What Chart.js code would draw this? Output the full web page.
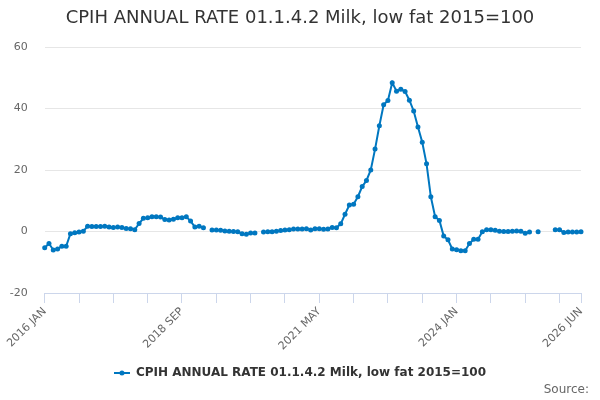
<!DOCTYPE html>
<html>
<head>
<meta charset="utf-8">
<script src="https://cdn.jsdelivr.net/npm/chart.js@4.4.1/dist/chart.umd.min.js"></script>
<style>
  html, body { margin: 0; padding: 0; background: #fff; }
  #wrap { width: 600px; height: 400px; }
</style>
</head>
<body>
<div id="wrap"><canvas id="line-chart" width="600" height="400"></canvas></div>
<script>
// monthly annual rate (%), one array per year, null = no figure published
var v2016 = [-5.3, -3.9, -6.0, -5.7, -4.8, -4.8, -0.7, -0.4, -0.2, 0.1, 1.7, 1.6];
var v2017 = [1.6, 1.6, 1.7, 1.5, 1.3, 1.5, 1.3, 1.0, 0.9, 0.6, 2.6, 4.3];
var v2018 = [4.5, 4.8, 4.8, 4.7, 3.9, 3.7, 4.0, 4.5, 4.5, 4.8, 3.4, 1.5];
var v2019 = [1.7, 1.2, null, 0.5, 0.5, 0.4, 0.2, 0.1, 0.0, -0.1, -0.7, -0.9];
var v2020 = [-0.5, -0.5, null, -0.2, -0.1, -0.1, 0.1, 0.3, 0.5, 0.6, 0.8, 0.8];
var v2021 = [0.8, 0.9, 0.5, 0.9, 0.9, 0.7, 0.8, 1.3, 1.2, 2.5, 5.6, 8.6];
var v2022 = [8.9, 11.3, 14.6, 16.6, 20.0, 26.8, 34.4, 41.2, 42.6, 48.4, 45.6, 46.3];
var v2023 = [45.5, 42.7, 39.2, 34.0, 29.0, 22.0, 11.3, 4.8, 3.6, -1.5, -2.7, -5.7];
var v2024 = [-5.9, -6.3, -6.3, -3.9, -2.5, -2.5, -0.1, 0.6, 0.6, 0.4, 0.1, 0.0];
var v2025 = [0.0, 0.1, 0.2, 0.1, -0.6, -0.2, null, -0.1, null, null, null, 0.6];
var v2026 = [0.6, -0.3, -0.2, -0.2, -0.2, -0.1];

var years = [2016, 2017, 2018, 2019, 2020, 2021, 2022, 2023, 2024, 2025, 2026];
var months = ['JAN', 'FEB', 'MAR', 'APR', 'MAY', 'JUN', 'JUL', 'AUG', 'SEP', 'OCT', 'NOV', 'DEC'];
var yTicks = [-20, 0, 20, 40, 60];

var seriesName = 'CPIH ANNUAL RATE 01.1.4.2 Milk, low fat 2015=100';
var blue = '#0077c0';

var valores = [].concat(v2016, v2017, v2018, v2019, v2020, v2021, v2022, v2023, v2024, v2025, v2026);
var etiquetas = [];
years.forEach(function (y) {
    months.forEach(function (m) {
        if (etiquetas.length < valores.length) etiquetas.push(y + ' ' + m);
    });
});
var last = etiquetas.length - 1;

// legend symbol: short line with a dot in the middle
var sym = document.createElement('canvas');
sym.width = 16; sym.height = 12;
var sctx = sym.getContext('2d');
sctx.strokeStyle = blue; sctx.lineWidth = 2;
sctx.beginPath(); sctx.moveTo(0, 6); sctx.lineTo(16, 6); sctx.stroke();
sctx.fillStyle = blue;
sctx.beginPath(); sctx.arc(8, 6, 2.5, 0, Math.PI * 2); sctx.fill();

// right padding pushes title/legend off centre, move them back to the page middle
var recentrar = {
    id: 'recentrar',
    afterLayout: function (chart) {
        var d = chart.options.layout.padding.right / 2;
        [chart.titleBlock, chart.legend].forEach(function (b) {
            if (b) { b.left += d; b.right += d; }
        });
    }
};

var sourceText = {
    id: 'sourceText',
    afterDraw: function (chart) {
        var c = chart.ctx;
        c.save();
        c.font = '12px "DejaVu Sans"';
        c.fillStyle = '#666666';
        c.textAlign = 'right';
        c.textBaseline = 'middle';
        c.fillText('Source:', 589, 390);
        c.restore();
    }
};

var ctx = document.getElementById('line-chart').getContext('2d');
var myChart = new Chart(ctx, {
    type: 'line',
    data: {
        labels: etiquetas,
        datasets: [{
            label: seriesName,
            data: valores,
            borderColor: blue,
            backgroundColor: blue,
            borderWidth: 2,
            pointRadius: 2.5,
            pointBorderWidth: 0,
            pointBackgroundColor: blue,
            spanGaps: false,
            tension: 0
        }]
    },
    plugins: [recentrar, sourceText],
    options: {
        responsive: false,
        animation: false,
        layout: { padding: { left: 0, right: 19, top: 0, bottom: 11 } },
        plugins: {
            tooltip: { enabled: false },
            title: {
                display: true,
                text: seriesName,
                color: '#333333',
                font: { family: 'DejaVu Sans', size: 18, weight: 'normal' },
                padding: { top: 8, bottom: 17.4 }
            },
            legend: {
                position: 'bottom',
                labels: {
                    usePointStyle: true,
                    pointStyle: sym,
                    pointStyleWidth: 16,
                    color: '#333333',
                    font: { family: 'DejaVu Sans', size: 12, weight: 'bold' },
                    padding: 10
                }
            }
        },
        scales: {
            x: {
                type: 'category',
                offset: false,
                afterFit: function (s) { s.height = 64; },
                border: { color: '#ccd6eb', width: 1 },
                grid: {
                    drawOnChartArea: false,
                    drawTicks: true,
                    tickLength: 10,
                    tickColor: function (c) {
                        return (c.index % 8 === 0 || c.index === last) ? '#ccd6eb' : 'rgba(0,0,0,0)';
                    }
                },
                ticks: {
                    autoSkip: false,
                    maxRotation: 45,
                    minRotation: 45,
                    padding: 2,
                    color: '#666666',
                    font: { family: 'DejaVu Sans', size: 11 },
                    callback: function (val, index) {
                        return (index % 32 === 0 || index === last) ? this.getLabelForValue(val) : '';
                    }
                }
            },
            y: {
                min: -20,
                max: 60,
                afterFit: function (s) { s.width = 44.7; },
                afterBuildTicks: function (s) {
                    s.ticks = yTicks.map(function (v) { return { value: v }; });
                },
                border: { display: false },
                grid: { color: '#e6e6e6', drawTicks: false },
                ticks: {
                    padding: 17,
                    color: '#666666',
                    font: { family: 'DejaVu Sans', size: 11 }
                }
            }
        }
    }
});
</script>
</body>
</html>
